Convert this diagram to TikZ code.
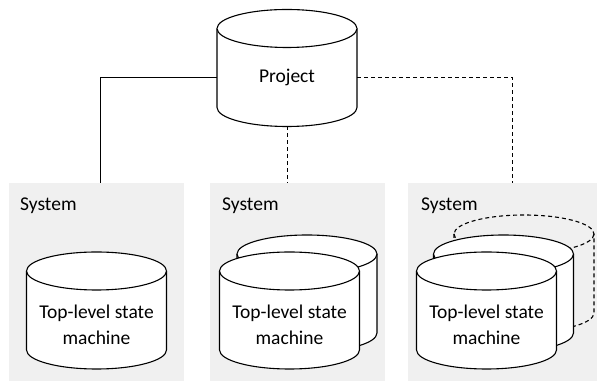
\documentclass[tikz,border=0pt]{standalone}
\usepackage{fontspec}
\setmainfont{Carlito}
\usetikzlibrary{positioning}

\definecolor{boxgray}{HTML}{F0F0F0}

\tikzset{
  tankline/.style={line width=1.1pt, fill=white, draw=black},
  ghost/.style={fill=none, dash pattern=on 4pt off 3pt},
  sysbox/.style={rectangle, fill=boxgray, inner sep=0pt, minimum height=198},
  syslabel/.style={anchor=base west, inner sep=0pt},
  tanktext/.style={align=center, inner sep=0pt},
  link/.style={line width=0.9pt},
  dlink/.style={line width=0.9pt, dash pattern=on 4pt off 3pt}
}

% cylinder: #2 = x of axis, #3 = y of top ellipse centre
\newcommand{\tank}[3][]{%
  \filldraw[tankline,#1] (#2-70,#3) -- (#2-70,#3-79)
    arc[start angle=180, end angle=360, x radius=70pt, y radius=19pt]
    -- (#2+70,#3)
    arc[start angle=0, end angle=180, x radius=70pt, y radius=19pt] -- cycle;
  \draw[tankline,#1] (#2-70,#3)
    arc[start angle=180, end angle=360, x radius=70pt, y radius=19pt];
}

\begin{document}
\begin{tikzpicture}[x=1pt, y=1pt, font=\fontsize{19.5}{26}\selectfont]
\fill[white] (0,0) rectangle (602,382);
\useasboundingbox (0,0) rectangle (602,382);

% the three system boxes
\node[sysbox, minimum width=175] (sysA) at (96.5,100) {};
\node[sysbox, minimum width=175] (sysB) at (297.5,100) {};
\node[sysbox, minimum width=189] (sysC) at (502.5,100) {};
\node[syslabel] (labA) at (20,171) {System};
\node[syslabel] (labB) at (222,171) {System};
\node[syslabel] (labC) at (421,171) {System};

% project store
\tank{287}{353.5}
\node[minimum width=140, minimum height=98, inner sep=0pt] (proj) at (287,305) {Project};

% connections
\draw[link] (proj.west) -| ([xshift=3.5pt]sysA.north);
\draw[dlink] (proj.south) -- (proj.south |- sysB.north);
\draw[dlink] (proj.east) -| ([xshift=9.5pt]sysC.north);

% single machine
\tank{96.5}{111}
\node[tanktext] (smA) at (96.5,57) {Top-level state\\machine};

% two machines
\tank{307}{128}
\tank{289.5}{111}
\node[tanktext] (smB) at (289.5,57) {Top-level state\\machine};

% two machines and an optional one
\tank[ghost]{524}{148}
\tank{503.5}{128}
\tank{486.5}{111}
\node[tanktext] (smC) at (486.5,57) {Top-level state\\machine};
\end{tikzpicture}
\end{document}
